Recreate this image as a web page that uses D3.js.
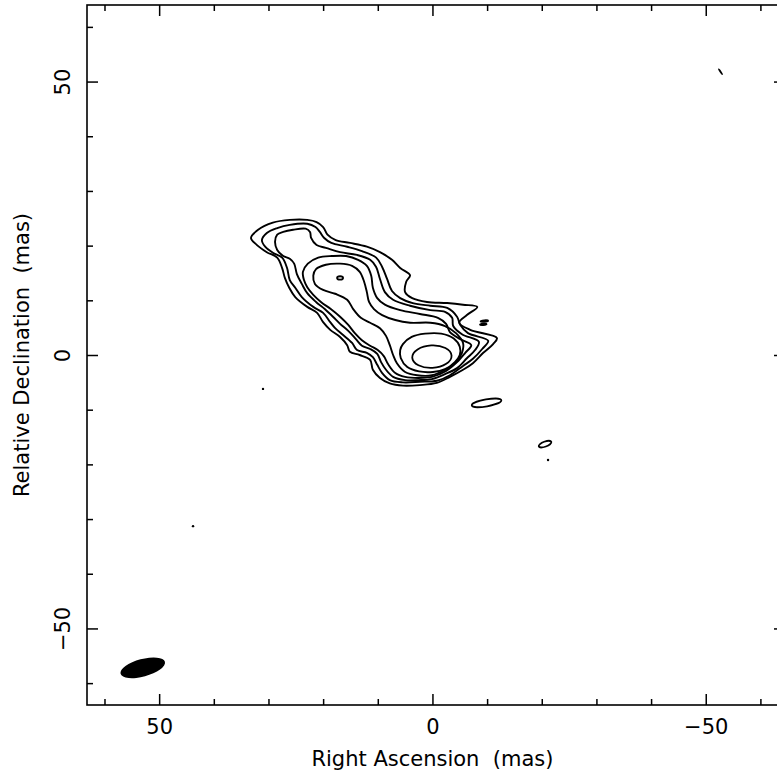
<!DOCTYPE html>
<html><head><meta charset="utf-8">
<script src="https://cdn.jsdelivr.net/npm/d3@7"></script>
<style>
html,body{margin:0;padding:0;background:#fff;}
svg{display:block;}
text{font-family:"DejaVu Sans",sans-serif;fill:#000;}
</style></head>
<body>
<svg id="chart" width="777" height="772"></svg>
<script>
// ---- data (RA, Dec in mas) ----
const xLabel = "Right Ascension\u00A0\u00A0(mas)";
const yLabel = "Relative Declination\u00A0\u00A0(mas)";
const majorTicks = [-50, 0, 50];
const minorTicks = [-60,-40,-30,-20,-10,10,20,30,40,60];

const contour1 = [[33.2,21.4],[31.9,22.9],[29.2,24.2],[26.1,24.7],[22.9,24.7],[21.2,24.3],[20.0,23.4],[19.2,22.0],[17.7,21.0],[15.1,20.5],[12.0,19.8],[9.6,18.8],[7.4,17.4],[5.9,15.9],[4.1,14.6],[4.8,13.4],[5.0,11.5],[3.7,10.4],[1.0,9.7],[-2.7,9.5],[-5.6,9.2],[-8.2,8.8],[-6.3,7.3],[-4.9,5.9],[-6.9,4.6],[-11.8,3.1],[-11.1,2.0],[-9.3,0.4],[-7.4,-1.5],[-5.6,-2.7],[-3.2,-4.0],[-0.8,-5.1],[2.3,-5.5],[5.4,-5.6],[7.8,-5.2],[9.6,-4.2],[10.9,-2.7],[11.4,-0.9],[13.3,0.0],[15.1,0.6],[15.6,1.8],[16.9,3.3],[18.7,4.6],[20.0,6.0],[21.1,7.7],[22.9,8.8],[25.1,10.6],[26.2,12.3],[27.0,14.1],[27.5,15.9],[28.4,17.8],[30.3,18.8],[32.1,20.1]];
const contour2 = [[31.2,21.0],[30.3,22.3],[28.4,23.2],[26.1,23.8],[22.9,24.0],[21.4,23.4],[20.6,22.5],[19.8,21.4],[18.5,20.5],[15.6,19.8],[12.9,19.0],[10.3,17.8],[9.2,16.1],[8.3,13.9],[7.4,11.7],[5.9,10.4],[3.6,9.5],[0.4,9.0],[-2.7,8.6],[-4.5,7.0],[-5.1,5.5],[-6.5,4.0],[-10.2,2.6],[-9.1,1.1],[-7.4,-0.7],[-5.6,-2.0],[-3.2,-3.7],[-0.8,-4.7],[2.3,-4.9],[5.4,-5.0],[7.8,-4.6],[9.2,-3.3],[10.1,-1.8],[10.9,-0.4],[12.0,0.4],[13.8,0.9],[14.7,2.2],[16.4,3.7],[17.8,4.9],[18.7,6.0],[20.0,7.7],[21.8,8.8],[23.9,10.6],[25.1,12.3],[26.1,13.7],[26.6,15.9],[27.5,17.8],[29.2,18.7],[30.6,19.8]];
const contour3 = [[28.8,20.7],[28.4,22.0],[27.3,22.5],[25.5,22.9],[23.2,23.1],[22.4,22.5],[22.2,21.4],[21.2,20.1],[19.5,19.6],[16.9,18.8],[13.8,18.3],[11.4,17.4],[10.3,16.1],[9.6,13.9],[8.7,11.5],[7.2,10.1],[4.1,9.0],[0.4,8.2],[-2.3,7.9],[-3.6,6.8],[-3.8,5.3],[-5.4,3.8],[-8.5,2.4],[-7.8,0.9],[-6.3,-0.6],[-4.5,-2.4],[-2.3,-3.5],[0.1,-4.4],[2.6,-4.6],[5.0,-4.6],[7.2,-4.0],[8.5,-2.7],[9.4,-1.3],[10.1,0.2],[11.4,1.1],[12.9,1.7],[14.0,2.9],[15.4,4.4],[16.9,5.7],[18.2,7.0],[19.7,8.4],[21.3,9.7],[22.9,11.3],[23.9,13.0],[24.8,14.8],[25.3,16.7],[26.1,17.6],[27.3,18.1],[28.4,19.2]];
const contour4 = [[23.7,15.2],[22.8,16.7],[20.9,17.8],[18.4,18.1],[15.8,18.1],[13.6,17.4],[12.0,16.3],[11.2,14.5],[10.9,12.3],[10.1,10.4],[8.7,9.2],[5.9,8.2],[2.3,7.5],[-1.0,6.8],[-2.5,5.7],[-3.2,4.2],[-5.1,2.9],[-7.1,1.8],[-6.0,0.4],[-4.5,-1.3],[-2.5,-2.9],[0.1,-4.0],[2.6,-4.2],[5.0,-4.0],[6.8,-3.3],[8.1,-1.7],[8.9,-0.2],[10.0,0.9],[11.4,1.7],[12.9,2.7],[14.2,4.0],[15.4,5.5],[16.9,7.0],[18.6,8.4],[20.4,9.7],[21.8,11.0],[22.9,12.4],[23.5,13.7]];
const contour5 = [[21.8,14.5],[21.3,15.7],[19.5,16.5],[16.9,16.7],[14.7,16.3],[13.3,15.2],[12.5,13.4],[12.0,11.5],[11.6,9.7],[10.7,8.4],[9.2,7.3],[6.8,6.4],[4.1,5.9],[0.4,5.9],[-2.3,5.3],[-4.3,4.0],[-5.6,2.2],[-5.4,0.4],[-4.3,-1.3],[-2.3,-2.7],[0.1,-3.7],[2.8,-3.7],[5.0,-3.1],[6.5,-1.5],[7.2,0.0],[7.8,1.8],[8.5,3.5],[9.6,4.9],[11.4,5.9],[13.1,6.8],[14.5,8.4],[15.6,10.1],[17.8,11.2],[20.0,11.9],[21.5,13.0]];
const contour6 = [[5.4,2.0],[3.8,3.3],[1.35,3.9],[-1.6,3.9],[-3.9,3.0],[-5.0,1.5],[-5.0,0.0],[-4.1,-1.3],[-2.3,-2.6],[-0.1,-3.1],[2.45,-3.0],[4.6,-2.2],[5.8,-0.55],[5.9,0.9]];
const contourLevels = [contour1, contour2, contour3, contour4, contour5, contour6];

// small closed contours: centre RA, Dec, semi-axes (mas), tilt (deg, rising to the right)
const peakRA  = [0.1, 16.9, -9.5, -9.3, -9.9, -20.6, -52.7];
const peakDec = [-0.3, 14.1, 6.2, 5.6, -8.75, -16.3, 51.8];
const peakA   = [3.6, 0.55, 0.7, 0.6, 2.74, 1.22, 0.6];
const peakB   = [2.05, 0.3, 0.14, 0.14, 0.64, 0.46, 0.08];
const peakTilt= [3, 0, 5, 5, 10, 20, -55];

// isolated specks
const speckRA  = [31.0, 43.8, -21.15];
const speckDec = [-6.2, -31.3, -19.2];

// restoring beam
const beam = {ra: 53.0, dec: -57.2, a: 4.2, b: 1.6, tilt: 15};

// ---- drawing ----
const svg = d3.select("#chart");
const L = 87, R = 785, T = 5, B = 705;
const x = d3.scaleLinear().domain([63.2, -64.5]).range([L, R]);
const y = d3.scaleLinear().domain([-64, 64]).range([B, T]);
const kx = Math.abs(x(1) - x(0)), ky = Math.abs(y(1) - y(0));

const line = d3.line().x(d => x(d[0])).y(d => y(d[1])).curve(d3.curveCatmullRomClosed.alpha(0.5));

const g = svg.append("g");
g.selectAll("path.ct").data(contourLevels).join("path")
  .attr("class", "ct")
  .attr("d", line)
  .attr("fill", "none").attr("stroke", "#000").attr("stroke-width", 1.9).attr("stroke-linejoin", "round");

g.selectAll("ellipse.pk").data(peakRA.map((r, i) => i)).join("ellipse")
  .attr("class", "pk")
  .attr("transform", i => `translate(${x(peakRA[i])},${y(peakDec[i])}) rotate(${-peakTilt[i]})`)
  .attr("rx", i => peakA[i] * kx).attr("ry", i => peakB[i] * ky)
  .attr("fill", "none").attr("stroke", "#000").attr("stroke-width", (i) => i === 6 ? 1.1 : 1.8);

g.selectAll("circle.sp").data(speckRA.map((r, i) => i)).join("circle")
  .attr("class", "sp")
  .attr("cx", i => x(speckRA[i])).attr("cy", i => y(speckDec[i])).attr("r", 1.2).attr("fill", "#000");

g.append("ellipse")
  .attr("transform", `translate(${x(beam.ra)},${y(beam.dec)}) rotate(${-beam.tilt})`)
  .attr("rx", beam.a * kx).attr("ry", beam.b * ky).attr("fill", "#000");

// frame
svg.append("rect").attr("x", L).attr("y", T).attr("width", R - L).attr("height", B - T)
  .attr("fill", "none").attr("stroke", "#000").attr("stroke-width", 1.6);

function styleAxis(sel) {
  sel.select(".domain").remove();
  sel.selectAll("line").attr("stroke", "#000").attr("stroke-width", 1.5);
}
const fmt = d3.format("");
// bottom
svg.append("g").attr("transform", `translate(0,${B})`)
  .call(d3.axisBottom(x).tickValues(majorTicks).tickSize(-11).tickPadding(14).tickFormat(fmt))
  .call(styleAxis)
  .call(s => s.selectAll("text").attr("font-size", 21).attr("font-family", "DejaVu Sans"));
svg.append("g").attr("transform", `translate(0,${B})`)
  .call(d3.axisBottom(x).tickValues(minorTicks).tickSize(-6).tickFormat(""))
  .call(styleAxis);
// top
svg.append("g").attr("transform", `translate(0,${T})`)
  .call(d3.axisTop(x).tickValues(majorTicks).tickSize(-11).tickFormat(""))
  .call(styleAxis);
svg.append("g").attr("transform", `translate(0,${T})`)
  .call(d3.axisTop(x).tickValues(minorTicks).tickSize(-6).tickFormat(""))
  .call(styleAxis);
// left
svg.append("g").attr("transform", `translate(${L},0)`)
  .call(d3.axisLeft(y).tickValues(majorTicks).tickSize(-11).tickFormat(fmt))
  .call(styleAxis)
  .call(s => s.selectAll("text")
    .attr("font-size", 21).attr("font-family", "DejaVu Sans")
    .attr("text-anchor", "middle").attr("x", 0).attr("y", 0).attr("dy", "0.36em")
    .attr("transform", "translate(-25,0) rotate(-90)"));
svg.append("g").attr("transform", `translate(${L},0)`)
  .call(d3.axisLeft(y).tickValues(minorTicks).tickSize(-6).tickFormat(""))
  .call(styleAxis);
// right
svg.append("g").attr("transform", `translate(${R},0)`)
  .call(d3.axisRight(y).tickValues(majorTicks).tickSize(-11).tickFormat(""))
  .call(styleAxis);
svg.append("g").attr("transform", `translate(${R},0)`)
  .call(d3.axisRight(y).tickValues(minorTicks).tickSize(-6).tickFormat(""))
  .call(styleAxis);

// axis titles
svg.append("text").attr("x", x(0)).attr("y", 766).attr("text-anchor", "middle")
  .attr("font-size", 21).text(xLabel);
svg.append("text").attr("transform", `translate(29,${y(0)}) rotate(-90)`).attr("text-anchor", "middle")
  .attr("font-size", 21).text(yLabel);
</script>
</body></html>
